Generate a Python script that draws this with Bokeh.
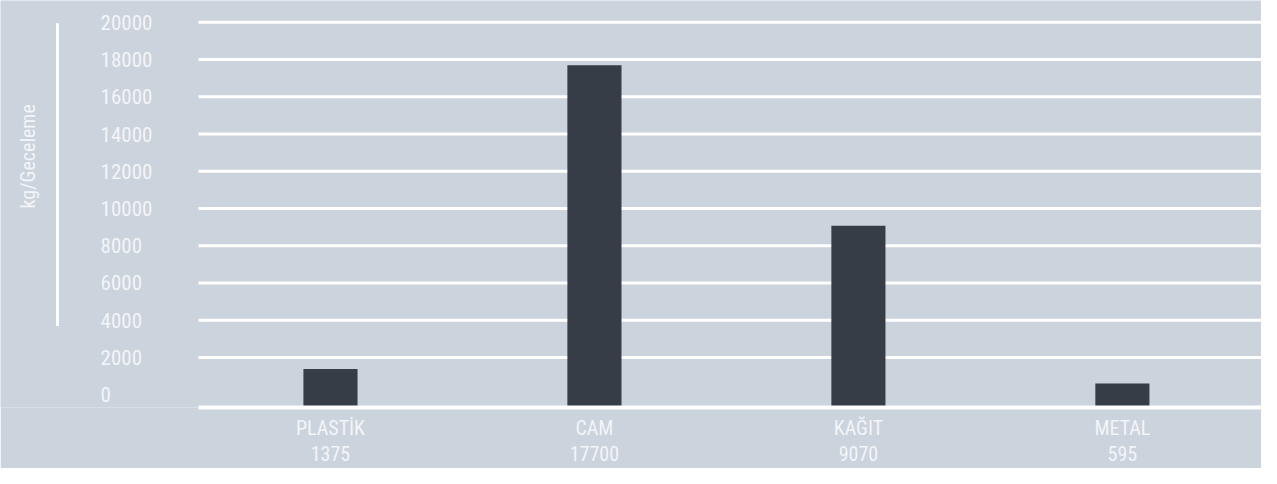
from bokeh.plotting import figure
from bokeh.models import Range1d, FixedTicker
from bokeh.core.properties import value
from bokeh.embed import file_html
from bokeh.resources import INLINE

# ---- data ----
categories = ["PLASTİK", "CAM", "KAĞIT", "METAL"]
values = [1375, 17700, 9070, 595]
y_ticks = [0, 2000, 4000, 6000, 8000, 10000, 12000, 14000, 16000, 18000, 20000]
y_tick_labels = [str(t) for t in y_ticks]
axis_title = "kg/Geceleme"

# ---- style ----
BG = "#cbd3dd"
BAR = "#363d47"
TXT = "#f3f5f8"
FONT = "Roboto Condensed, DejaVu Sans Condensed, Roboto, sans-serif"

x_pos = list(range(len(categories)))
x_start, x_end = -1.25, 3.527
y_start, y_end = -693, 21174

p = figure(width=1261, height=468,
           x_range=Range1d(x_start, x_end),
           y_range=Range1d(y_start, y_end),
           y_axis_location=None,
           output_backend="svg", toolbar_location=None,
           min_border_left=0, min_border_right=0,
           min_border_top=0, min_border_bottom=58,
           background_fill_color=BG, border_fill_color=BG,
           outline_line_color=None)

# grid lines (drawn only over the plotting area, right of the labels)
p.xgrid.visible = False
p.ygrid.visible = False
grid_y = y_ticks[1:]
p.segment(x0=[-0.5] * len(grid_y), x1=[x_end] * len(grid_y),
          y0=grid_y, y1=grid_y, line_color="white", line_width=3)

# bars
p.vbar(x=x_pos, top=values, bottom=y_start, width=0.205,
       fill_color=BAR, line_color=None)

# y tick labels, left aligned
p.text(x=[-0.871] * len(y_ticks), y=y_ticks, text=y_tick_labels,
       text_align="left", text_baseline="middle", text_color=TXT,
       text_font=value(FONT), text_font_size="21px")

# decorative vertical line and axis title
p.segment(x0=[-1.034], x1=[-1.034], y0=[3680], y1=[19947],
          line_color="white", line_width=3)
p.text(x=[-1.144], y=[12800], text=[axis_title], angle=1.5707963,
       text_align="center", text_baseline="middle", text_color=TXT,
       text_font=value(FONT), text_font_size="20px")

# x axis
xa = p.xaxis[0]
xa.ticker = FixedTicker(ticks=x_pos)
xa.major_label_overrides = {i: f"{c}\n{v}" for i, c, v in zip(x_pos, categories, values)}
xa.bounds = (-0.5, x_end)
xa.axis_line_color = "white"
xa.axis_line_width = 4
xa.major_tick_line_color = None
xa.minor_tick_line_color = None
xa.major_label_text_color = TXT
xa.major_label_text_font = FONT
xa.major_label_text_font_size = "20px"
xa.major_label_text_line_height = 1.1
xa.major_label_standoff = 2

open("out.html", "w").write(file_html(p, INLINE))
